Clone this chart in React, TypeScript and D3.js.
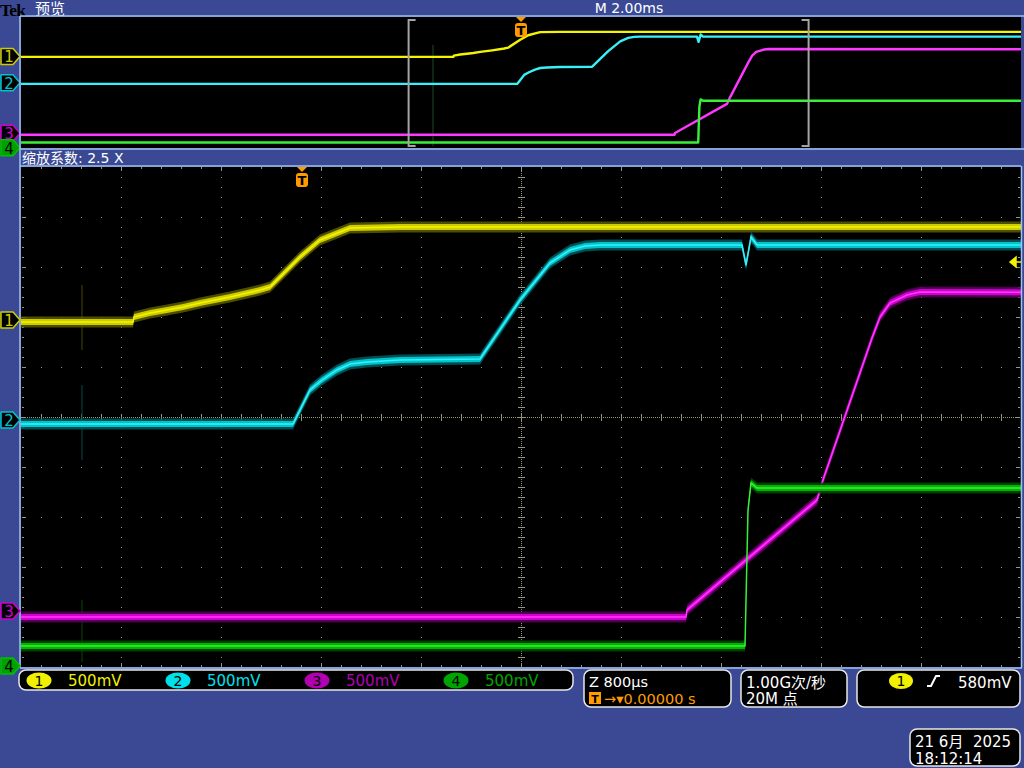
import React from 'react';
import * as d3 from 'd3';

// time in µs relative to trigger, level in volts
const ch1Time = [-10000, -1352, -1344, -1216, -1080, -952, -816, -576, -336, -256, -16, 144, 304, 384, 784, 10000];
const ch1Volts = [-0.02, -0.02, 0.03, 0.07, 0.1, 0.13, 0.17, 0.23, 0.3, 0.33, 0.63, 0.8, 0.88, 0.92, 0.93, 0.93];

const ch2Time = [-10000, -72, 64, 160, 280, 384, 520, 784, 1424, 1744, 1984, 2144, 2264, 2384, 3520, 3552, 3592, 3640, 10000];
const ch2Volts = [-0.04, -0.04, 0.3, 0.4, 0.5, 0.56, 0.58, 0.6, 0.61, 1.2, 1.57, 1.7, 1.74, 1.75, 1.75, 1.55, 1.83, 1.75, 1.75];

const ch3Time = [-10000, 3072, 3080, 4120, 4168, 4560, 4624, 4704, 4840, 4944, 10000];
const ch3Volts = [-0.06, -0.06, 0.01, 1.11, 1.31, 2.73, 2.94, 3.08, 3.16, 3.19, 3.18];

const ch4Time = [-10000, 3544, 3568, 3592, 3640, 10000];
const ch4Volts = [0.2, 0.2, 1.56, 1.83, 1.78, 1.78];

const channelNames = ['1', '2', '3', '4'];
const channelOffsetDiv = [1.94, -0.06, -3.88, -4.98];
const voltsPerDiv = [0.5, 0.5, 0.5, 0.5];
const scaleLabels = ['500mV', '500mV', '500mV', '500mV'];

const zoomTimePerDiv = 800; // µs
const mainTimePerDiv = 2000; // µs
const triggerDivFromLeft = 2.81;
const zoomFactor = '2.5 X';
const triggerLevel = 0.58; // V on ch1
const glitchTime = -1760;

const coreColor = ['#f4f400', '#38f0f8', '#ff38ff', '#38f038'];
const midColor = ['#cccc00', '#00c4cc', '#d000d0', '#00b400'];
const haloColor = ['#5a5a00', '#005a60', '#5c005c', '#004c00'];
const labelColor = ['#f0f000', '#00e0e8', '#b000b0', '#00a400'];

const BLUE = '#3b4994';
const BORDER = '#9cc2f0';
const GRID = '#9a9680';
const ORANGE = '#ff9c00';
const FONT = '"DejaVu Sans", "Noto Sans CJK SC", sans-serif';

const MAIN = { left: 21, right: 1021, top: 167, bottom: 667 };
const OV = { left: 21, right: 1021, top: 17, bottom: 148 };

const traces = [
  { t: ch1Time, v: ch1Volts },
  { t: ch2Time, v: ch2Volts },
  { t: ch3Time, v: ch3Volts },
  { t: ch4Time, v: ch4Volts },
];

const xMain = d3.scaleLinear()
  .domain([-triggerDivFromLeft * zoomTimePerDiv, (10 - triggerDivFromLeft) * zoomTimePerDiv])
  .range([MAIN.left, MAIN.right]);
const yMain = d3.scaleLinear().domain([-5, 5]).range([MAIN.bottom, MAIN.top]);
const xOv = d3.scaleLinear().domain([-5 * mainTimePerDiv, 5 * mainTimePerDiv]).range([OV.left, OV.right]);
const yOv = d3.scaleLinear().domain([-5, 5]).range([OV.bottom, OV.top - 1]);

const levelDiv = (ch: number, v: number) => channelOffsetDiv[ch] + v / voltsPerDiv[ch];

function gridPath() {
  let p = '';
  const dot = (x: number, y: number, w = 1, h = 1) => { p += `M${x},${y}h${w}v${h}h${-w}z`; };
  const xs = d3.range(1, 10).map(i => MAIN.left + i * 100);
  const ys = d3.range(1, 10).map(i => MAIN.top + i * 50);
  const cx = MAIN.left + 500, cy = MAIN.top + 250;
  xs.forEach(x => { if (x !== cx) d3.range(MAIN.top + 10, MAIN.bottom, 10).forEach(y => dot(x, y)); });
  ys.forEach(y => { if (y !== cy) d3.range(MAIN.left + 20, MAIN.right, 20).forEach(x => dot(x, y)); });
  // centre crosshair
  d3.range(MAIN.top, MAIN.bottom, 2).forEach(y => dot(cx, y));
  d3.range(MAIN.left, MAIN.right, 2).forEach(x => dot(x, cy));
  d3.range(MAIN.top + 10, MAIN.bottom, 10).forEach(y => dot(cx - 3, y, 7, 1));
  d3.range(MAIN.left + 20, MAIN.right, 20).forEach(x => dot(x, cy - 3, 1, 7));
  // edge ticks
  d3.range(MAIN.left + 20, MAIN.right, 20).forEach(x => {
    const h = (x - MAIN.left) % 100 === 0 ? 4 : 2;
    dot(x, MAIN.top, 1, h);
    dot(x, MAIN.bottom - h, 1, h);
  });
  d3.range(MAIN.top + 10, MAIN.bottom, 10).forEach(y => {
    const w = (y - MAIN.top) % 50 === 0 ? 4 : 2;
    dot(MAIN.left + 1, y, w, 1);
    dot(MAIN.right - w - 1, y, w, 1);
  });
  return p;
}

const ChannelMarker = ({ ch, y }: { ch: number; y: number }) => {
  const filled = ch === 3;
  const c = ch === 3 ? '#00a000' : midColor[ch];
  return (
    <g>
      <path d={`M1,${y - 8}H13L20,${y}L13,${y + 8}H1Z`} fill={filled ? c : '#000'} stroke={filled ? '#00c000' : c} strokeWidth={1.5} strokeLinejoin="round" />
      <text x={9} y={y + 6} textAnchor="middle" fontFamily={FONT} fontSize={15} fill={filled ? '#000' : c}>{channelNames[ch]}</text>
    </g>
  );
};

const TMarker = ({ x, y }: { x: number; y: number }) => (
  <g>
    <path d={`M${x - 5},${y}H${x + 5}L${x},${y + 5}Z`} fill={ORANGE} />
    <rect x={x - 6} y={y + 6} width={12} height={14} rx={3} fill={ORANGE} />
    <text x={x} y={y + 18} textAnchor="middle" fontFamily={FONT} fontWeight="bold" fontSize={13} fill="#000">T</text>
  </g>
);

const StatusBox = ({ x, y, w, h, children }: any) => (
  <g>
    <rect x={x} y={y} width={w} height={h} rx={7} fill="#000" stroke="#e8e8e8" strokeWidth={1.5} />
    {children}
  </g>
);

export default function App() {
  const mainTraces = traces.map((tr, ch) => {
    const pts = tr.t.map((t, i) => [xMain(t), yMain(levelDiv(ch, tr.v[i]))] as [number, number]);
    const band = (r: number) => d3.area<[number, number]>().x(d => d[0]).y0(d => d[1] - r).y1(d => d[1] + r)(pts) as string;
    const core = d3.line<[number, number]>()(pts) as string;
    return { halo: band(5.5), mid: band(3), core };
  });

  const ovTraces = traces.map((tr, ch) =>
    d3.line<number>().x(t => xOv(t)).y((t, i) => yOv(levelDiv(ch, tr.v[i])))(tr.t) as string
  );

  const zoomLeft = xOv(xMain.domain()[0]);
  const zoomRight = xOv(xMain.domain()[1]);
  const trigY = yMain(levelDiv(0, triggerLevel));

  return (
    <svg width={1024} height={768} style={{ position: 'fixed', left: 0, top: 0, background: BLUE }}>
      <rect x={0} y={0} width={1024} height={768} fill={BLUE} />
      <defs>
        <clipPath id="clipMain"><rect x={MAIN.left} y={MAIN.top} width={MAIN.right - MAIN.left} height={MAIN.bottom - MAIN.top} /></clipPath>
        <clipPath id="clipOv"><rect x={OV.left} y={OV.top} width={OV.right - OV.left} height={OV.bottom - OV.top} /></clipPath>
      </defs>

      {/* header */}
      <text x={0} y={16} fontFamily='"Liberation Serif", serif' fontWeight="bold" fontSize={17.5} letterSpacing={-0.8} fill="#000">Tek</text>
      <text x={35} y={14} fontFamily={FONT} fontSize={15} fill="#fff">预览</text>
      <text x={629} y={13} textAnchor="middle" fontFamily={FONT} fontSize={14} fill="#fff">M 2.00ms</text>

      {/* overview window */}
      <rect x={OV.left} y={OV.top} width={OV.right - OV.left} height={OV.bottom - OV.top} fill="#000" />
      <line x1={20} x2={1024} y1={16} y2={16} stroke={BORDER} strokeWidth={1.5} />
      <line x1={20} x2={1024} y1={149} y2={149} stroke={BORDER} strokeWidth={1.5} />
      <g clipPath="url(#clipOv)">
        <line x1={xOv(glitchTime)} x2={xOv(glitchTime)} y1={45} y2={146} stroke="#1e4a1e" strokeWidth={1} />
        {ovTraces.map((d, ch) => (
          <path key={ch} d={d} fill="none" stroke={coreColor[ch]} strokeWidth={2.4} strokeLinejoin="round" />
        ))}
        {[zoomLeft, zoomRight].map((x, i) => {
          const s = i === 0 ? 1 : -1;
          return (
            <path key={i} d={`M${x + 7 * s},${OV.top + 3}H${x}V${OV.bottom - 2}H${x + 7 * s}`} fill="none" stroke="#a4a4a4" strokeWidth={2} />
          );
        })}
      </g>
      <TMarker x={xOv(0)} y={OV.top} />
      {traces.map((_, ch) => <ChannelMarker key={ch} ch={ch} y={yOv(channelOffsetDiv[ch])} />)}

      <text x={22} y={163} fontFamily={FONT} fontSize={14} fill="#fff">{`缩放系数: ${zoomFactor}`}</text>

      {/* main zoom window */}
      <rect x={MAIN.left} y={MAIN.top} width={MAIN.right - MAIN.left} height={MAIN.bottom - MAIN.top} fill="#000" />
      <path d={gridPath()} fill={GRID} />
      <g clipPath="url(#clipMain)">
        <line x1={xMain(glitchTime)} x2={xMain(glitchTime)} y1={285} y2={350} stroke="#3c3c08" strokeWidth={1.2} />
        <line x1={xMain(glitchTime)} x2={xMain(glitchTime)} y1={385} y2={460} stroke="#083c3c" strokeWidth={1.2} />
        <line x1={xMain(glitchTime)} x2={xMain(glitchTime)} y1={600} y2={662} stroke="#0a3a0a" strokeWidth={1.2} />
        {mainTraces.map((m, ch) => (
          <g key={ch}>
            <path d={m.halo} fill={haloColor[ch]} opacity={0.85} />
            <path d={m.mid} fill={midColor[ch]} />
            <path d={m.core} fill="none" stroke={coreColor[ch]} strokeWidth={1.5} />
          </g>
        ))}
      </g>
      <line x1={20} x2={20} y1={16} y2={668} stroke={BORDER} strokeWidth={1.5} />
      <line x1={20} x2={1021} y1={166} y2={166} stroke={BORDER} strokeWidth={1.5} />
      <line x1={20} x2={1022} y1={668} y2={668} stroke={BORDER} strokeWidth={1.5} />
      <line x1={1021.5} x2={1021.5} y1={166} y2={668} stroke={BORDER} strokeWidth={1.5} />
      <TMarker x={xMain(0)} y={MAIN.top} />
      <path d={`M1010,${trigY}L1016,${trigY - 5}V${trigY + 5}Z M1016,${trigY}H1021`} fill={coreColor[0]} stroke={coreColor[0]} strokeWidth={1.5} />
      {traces.map((_, ch) => <ChannelMarker key={ch} ch={ch} y={yMain(channelOffsetDiv[ch])} />)}

      {/* status readouts */}
      <StatusBox x={19} y={670} w={554} h={20}>
        {channelNames.map((n, ch) => (
          <g key={ch}>
            <ellipse cx={39 + ch * 139} cy={680.5} rx={12.5} ry={8} fill={labelColor[ch]} />
            <text x={39 + ch * 139} y={686} textAnchor="middle" fontFamily={FONT} fontSize={14} fill="#000">{n}</text>
            <text x={68 + ch * 139} y={686} fontFamily={FONT} fontSize={15} fill={labelColor[ch]}>{scaleLabels[ch]}</text>
          </g>
        ))}
      </StatusBox>
      <StatusBox x={584} y={670} w={147} h={37}>
        <text x={589} y={687} fontFamily={FONT} fontSize={14.5} fill="#fff">Z 800µs</text>
        <rect x={589} y={692} width={12} height={12} fill={ORANGE} />
        <text x={595} y={703} textAnchor="middle" fontFamily={FONT} fontWeight="bold" fontSize={11} fill="#000">T</text>
        <text x={604} y={704} fontFamily={FONT} fontSize={14.5} fill={ORANGE}>→▾0.00000 s</text>
      </StatusBox>
      <StatusBox x={741} y={670} w={106} h={37}>
        <text x={746} y={688} fontFamily={FONT} fontSize={15} fill="#fff">1.00G次/秒</text>
        <text x={746} y={704} fontFamily={FONT} fontSize={15} fill="#fff">20M 点</text>
      </StatusBox>
      <StatusBox x={857} y={670} w={163} h={37}>
        <ellipse cx={901} cy={681} rx={12} ry={8} fill={labelColor[0]} />
        <text x={901} y={686} textAnchor="middle" fontFamily={FONT} fontSize={14} fill="#000">1</text>
        <path d="M927,686H931L936,676H940" fill="none" stroke="#fff" strokeWidth={2} />
        <text x={958} y={688} fontFamily={FONT} fontSize={15} fill="#fff">580mV</text>
      </StatusBox>
      <StatusBox x={910} y={729} w={110} h={37}>
        <text x={915} y={747} fontFamily={FONT} fontSize={15} fill="#fff" style={{ whiteSpace: 'pre' }}>{'21 6月  2025'}</text>
        <text x={915} y={764} fontFamily={FONT} fontSize={15} fill="#fff">18:12:14</text>
      </StatusBox>
    </svg>
  );
}
